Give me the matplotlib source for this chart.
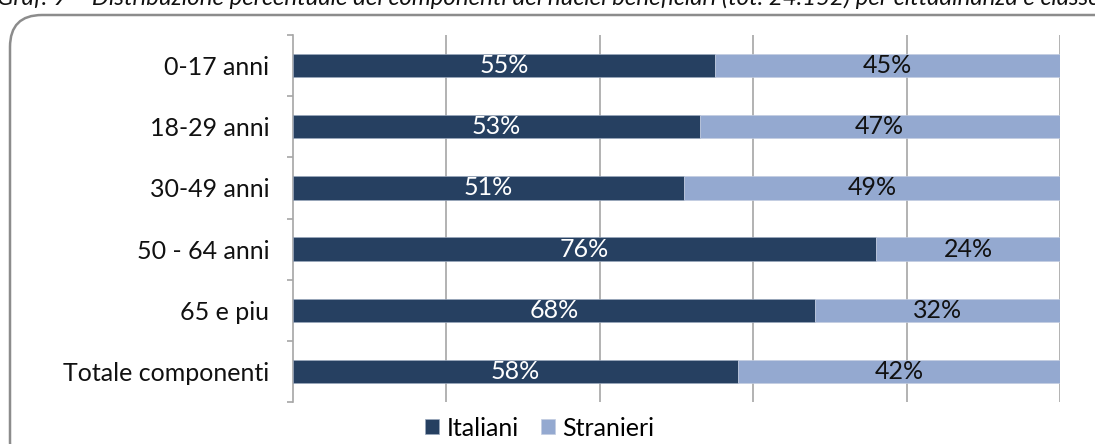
import matplotlib
matplotlib.use("Agg")
import matplotlib.pyplot as plt
from matplotlib.patches import FancyBboxPatch
from matplotlib.transforms import IdentityTransform
import numpy as np

categories = ["0-17 anni", "18-29 anni", "30-49 anni", "50 - 64 anni", "65 e piu", "Totale componenti"]
italiani = [55, 53, 51, 76, 68, 58]
stranieri = [45, 47, 49, 24, 32, 42]
series_names = ["Italiani", "Stranieri"]
title = ("Graf. 9 \u2013 Distribuzione percentuale dei componenti dei nuclei beneficiari "
         "(tot. 24.152) per cittadinanza e classe di et\u00e0")

DARK = "#264061"
LIGHT = "#94A9D0"
FONT = "Lato"
plt.rcParams['font.family'] = [FONT, 'DejaVu Sans']

W, H = 1095, 444
fig = plt.figure(figsize=(W / 100, H / 100), dpi=100)

# rounded frame (extends past right and bottom edges)
frame = FancyBboxPatch((10, -30), 1120, H - 15 + 30,
                       boxstyle="round,pad=0,rounding_size=32",
                       transform=IdentityTransform(), facecolor="white",
                       edgecolor="#8C8C8C", linewidth=1.8, zorder=0)
fig.add_artist(frame)

fig.text(-0.003, 1 - 5 / H, title, ha="left", va="baseline", fontsize=17.3,
         style="italic", color="#111111")

ax = fig.add_axes([293 / W, 1 - 402 / H, (1060 - 293) / W, (402 - 35) / H])
ax.patch.set_alpha(0)

y = np.arange(len(categories))
h = 0.38
b1 = ax.barh(y, italiani, height=h, color=DARK, edgecolor="#9AA8BD", linewidth=0.5,
             label=series_names[0], zorder=3)
b2 = ax.barh(y, stranieri, left=italiani, height=h, color=LIGHT, edgecolor="#C2CCE0",
             linewidth=0.5, label=series_names[1], zorder=3)

for yi, a, s in zip(y, italiani, stranieri):
    ax.text(a / 2, yi, f"{a}%", ha="center", va="center", color="white", fontsize=18, zorder=4)
    ax.text(a + s / 2, yi, f"{s}%", ha="center", va="center", color="#111111", fontsize=18, zorder=4)

ax.set_xlim(0, 100)
ax.set_ylim(len(categories) - 0.5, -0.5)
ax.set_xticks([20, 40, 60, 80, 100])
ax.tick_params(axis="x", length=0, labelbottom=False)
ax.grid(axis="x", color="#A6A6A6", linewidth=1.2, zorder=1)

ax.set_yticks(y)
ax.set_yticklabels(categories, fontsize=18, color="#111111")
ax.tick_params(axis="y", which="major", length=0, pad=17)
ax.set_yticks(np.arange(len(categories) + 1) - 0.5, minor=True)
ax.tick_params(axis="y", which="minor", length=4, width=1.2, color="#A6A6A6")

for side in ["top", "right", "bottom"]:
    ax.spines[side].set_visible(False)
ax.spines["left"].set_color("#A6A6A6")
ax.spines["left"].set_linewidth(1.2)

fig.legend(handles=[b1, b2], labels=series_names, loc="center",
           bbox_to_anchor=(540 / W, 1 - 428 / H), ncol=2, frameon=False,
           fontsize=18, handlelength=0.55, handleheight=0.55, handletextpad=0.3,
           columnspacing=0.9)

fig.savefig("out.png", dpi=100)
